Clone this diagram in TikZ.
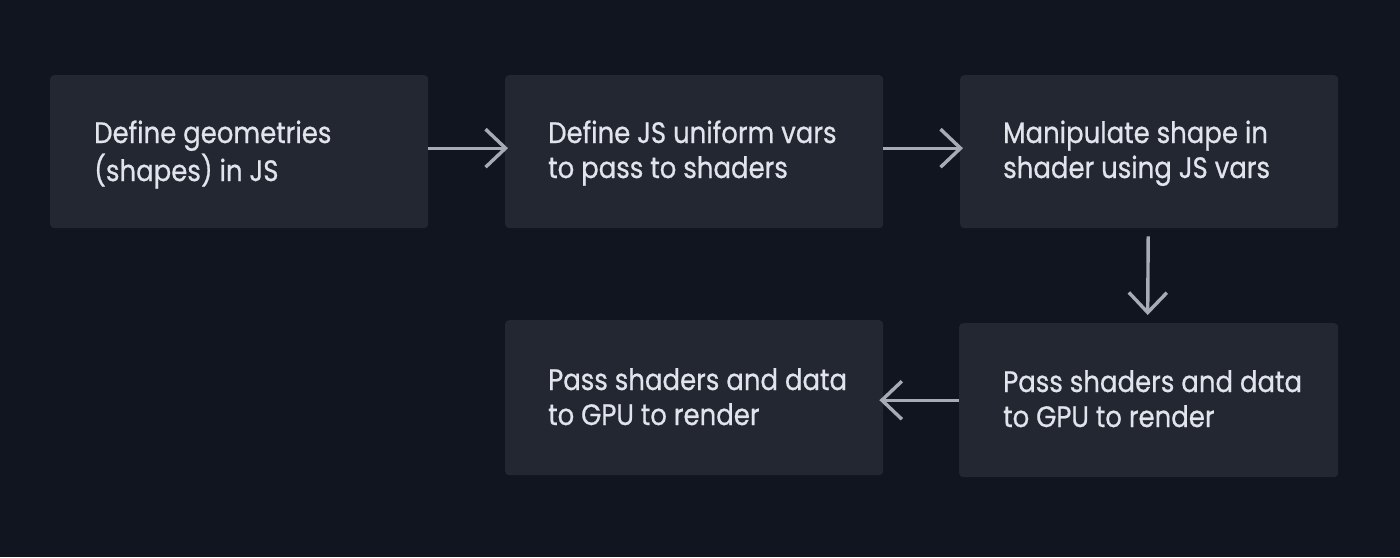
\documentclass[tikz,border=0pt]{standalone}
\usepackage{fontspec}
\setmainfont[FakeStretch=0.88,FakeBold=0.7]{Poppins}
\usetikzlibrary{arrows.meta}
\definecolor{bgc}{HTML}{10151F}
\definecolor{boxc}{HTML}{222732}
\definecolor{glowc}{HTML}{3A404C}
\definecolor{txtc}{HTML}{E1E4EA}
\definecolor{arrc}{HTML}{A6ABB5}
\begin{document}
\begin{tikzpicture}[x=1pt,y=-1pt,
  box/.style={fill=boxc, rounded corners=4pt, minimum width=378pt, minimum height=153pt, inner sep=0pt, anchor=north west},
  txt/.style={anchor=base west, inner sep=0pt, text=txtc, font=\fontsize{29.5}{35}\selectfont},
  arr/.style={draw=arrc, line width=3.4pt, -{Straight Barb[length=20pt,width=38pt,line width=3.4pt]}}]
\useasboundingbox[fill=bgc] (0,0) rectangle (1400,557);
\node[box] (b1) at (50,75) {};
\node[box] (b2) at (505,75) {};
\node[box] (b3) at (960,75) {};
\node[box, minimum height=155pt] (b4) at (505,320) {};
\node[box, minimum width=379pt, minimum height=154pt] (b5) at (959,323) {};
\def\arraystretch{1}
\node[txt] (t1) at (94,143) {\begin{tabular}[t]{@{}l@{}}Define geometries\\(shapes) in JS\end{tabular}};
\node[txt] (t2) at (548,143) {\begin{tabular}[t]{@{}l@{}}Define JS uniform vars\\to pass to shaders\end{tabular}};
\node[txt] (t3) at (1003,143) {\begin{tabular}[t]{@{}l@{}}Manipulate shape in\\shader using JS vars\end{tabular}};
\node[txt] (t4) at (548,390) {\begin{tabular}[t]{@{}l@{}}Pass shaders and data\\to GPU to render\end{tabular}};
\node[txt] (t5) at (1003,392) {\begin{tabular}[t]{@{}l@{}}Pass shaders and data\\to GPU to render\end{tabular}};
\draw[arr] ([yshift=3.5pt]b1.east) -- ([xshift=3pt,yshift=3.5pt]b2.west);
\draw[arr] ([yshift=3.5pt]b2.east) -- ([xshift=3pt,yshift=3.5pt]b3.west);
\draw[arr] ([xshift=-1pt,yshift=-8pt]b3.south) -- ([xshift=-1pt,yshift=8pt]b5.north);
\draw[arr] (b5.west) -- ([xshift=-4pt]b4.east |- b5.west);
\end{tikzpicture}
\end{document}
